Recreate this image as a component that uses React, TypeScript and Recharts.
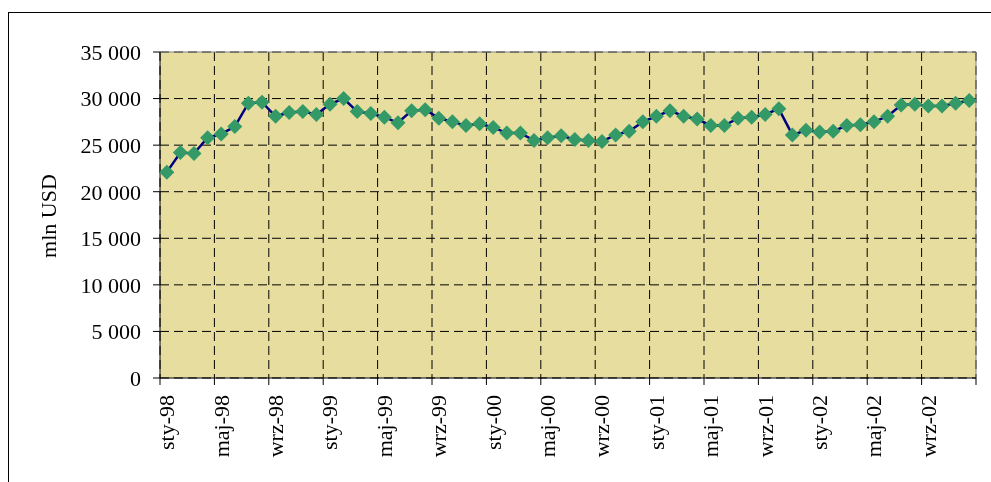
import React from 'react';
import { LineChart, Line, XAxis, YAxis, CartesianGrid, ReferenceLine, Label } from 'recharts';

const monthNames = ['sty', 'lut', 'mar', 'kwi', 'maj', 'cze', 'lip', 'sie', 'wrz', 'paź', 'lis', 'gru'];
const years = ['98', '99', '00', '01', '02'];
const categories: string[] = years.flatMap((y) => monthNames.map((m) => `${m}-${y}`));

const values = [
  22100, 24200, 24100, 25800, 26200, 27000, 29500, 29600, 28100, 28500, 28600, 28300,
  29400, 30000, 28600, 28400, 28000, 27400, 28700, 28800, 27900, 27500, 27100, 27300,
  26900, 26300, 26300, 25500, 25800, 26000, 25600, 25500, 25400, 26100, 26500, 27500,
  28100, 28700, 28100, 27800, 27100, 27100, 27900, 28000, 28300, 28900, 26100, 26600,
  26400, 26500, 27100, 27200, 27500, 28100, 29300, 29400, 29200, 29200, 29500, 29800,
];

const yTicks = [0, 5000, 10000, 15000, 20000, 25000, 30000, 35000];
const xTicks = Array.from({ length: 16 }, (_, i) => i * 4);

const data = categories.map((c, i) => ({ label: c, x: i + 0.5, value: values[i] }));

const FONT = '"Liberation Serif", "Times New Roman", serif';

const fmt = (v: number) => {
  const s = String(Math.round(v));
  return s.replace(/\B(?=(\d{3})+(?!\d))/g, ' ');
};

const Diamond = (props: any) => {
  const { cx, cy } = props;
  if (cx == null || cy == null) return null;
  const r = 7.5;
  return (
    <polygon
      points={`${cx},${cy - r} ${cx + r},${cy} ${cx},${cy + r} ${cx - r},${cy}`}
      fill="#339966"
      stroke="none"
    />
  );
};

const XTick = (props: any) => {
  const { x, y, payload } = props;
  const v = payload.value as number;
  if (v >= 60) return null;
  const half = 815.5 / 60 / 2;
  const tx = x + half;
  const ty = y + 8;
  return (
    <text
      x={tx}
      y={ty}
      transform={`rotate(-90 ${tx} ${ty})`}
      textAnchor="end"
      dy="0.34em"
      fill="#000"
      fontFamily={FONT}
      fontSize={22}
    >
      {categories[v]}
    </text>
  );
};

export default function App() {
  return (
    <div style={{ position: 'relative', width: 983, height: 466 }}>
      <div
        style={{
          position: 'fixed',
          left: 8,
          top: 12,
          width: 990,
          height: 480,
          borderLeft: '1px solid #000',
          borderTop: '1px solid #000',
          boxSizing: 'border-box',
        }}
      />
      <div style={{ position: 'absolute', left: 0, top: 0 }}>
        <LineChart
          width={983}
          height={466}
          data={data}
          margin={{ top: 44, right: 15, left: 0, bottom: 16 }}
        >
          <CartesianGrid
            fill="#E6DD9F"
            stroke="#000"
            strokeDasharray="9 5"
            horizontalValues={yTicks}
            verticalValues={xTicks}
          />
          <XAxis
            dataKey="x"
            type="number"
            domain={[0, 60]}
            ticks={xTicks}
            interval={0}
            height={80}
            axisLine={{ stroke: '#000', strokeWidth: 1 }}
            tickLine={{ stroke: '#000' }}
            tickSize={7}
            tick={<XTick />}
          />
          <YAxis
            type="number"
            domain={[0, 35000]}
            ticks={yTicks}
            interval={0}
            width={152}
            axisLine={{ stroke: '#000', strokeWidth: 1 }}
            tickLine={{ stroke: '#000' }}
            tickSize={7}
            tickMargin={12}
            tickFormatter={fmt}
            tick={{ fill: '#000', fontFamily: FONT, fontSize: 22 }}
          >
            <Label
              content={() => (
                <text
                  x={41}
                  y={208}
                  transform="rotate(-90 41 208)"
                  textAnchor="middle"
                  dy="0.34em"
                  fill="#000"
                  fontFamily={FONT}
                  fontSize={22}
                >
                  mln USD
                </text>
              )}
            />
          </YAxis>
          <ReferenceLine y={35000} stroke="#808080" strokeWidth={1} />
          <ReferenceLine x={60} stroke="#808080" strokeWidth={1} />
          <Line
            type="linear"
            dataKey="value"
            stroke="#000080"
            strokeWidth={2.5}
            dot={<Diamond />}
            activeDot={false}
            isAnimationActive={false}
          />
        </LineChart>
      </div>
    </div>
  );
}
